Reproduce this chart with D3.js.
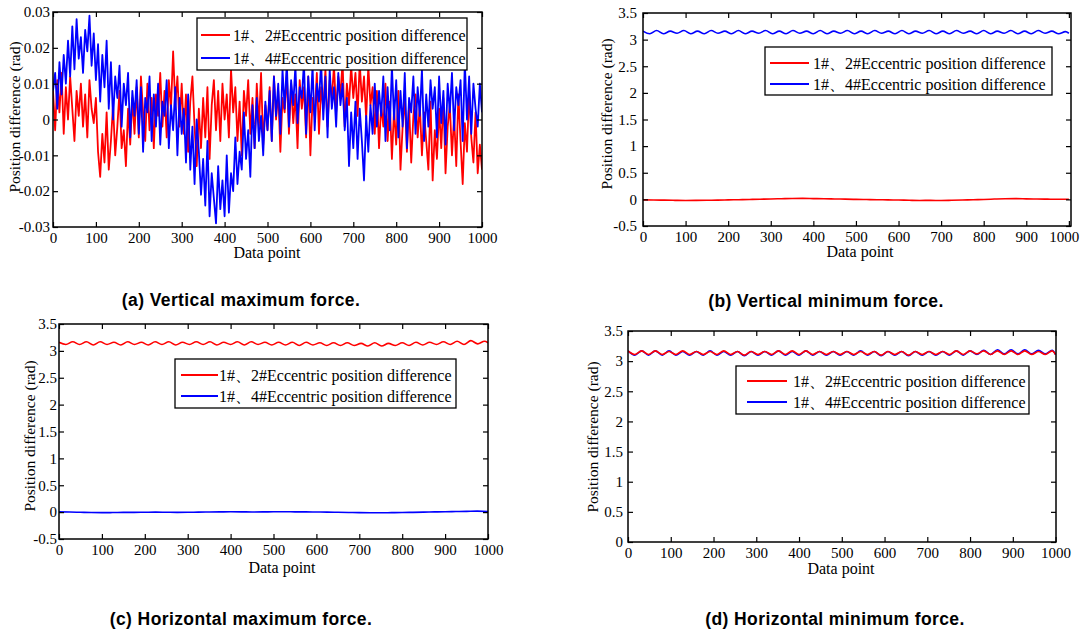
<!DOCTYPE html>
<html>
<head>
<meta charset="utf-8">
<script src="https://cdn.jsdelivr.net/npm/d3@7"></script>
<style>
  body { margin: 0; background: #fff; }
  svg { display: block; }
  .tick text, .lab, .leg { font-family: "Liberation Serif", "Times New Roman", serif; fill: #000; }
  .cap { font-family: "Liberation Sans", Arial, sans-serif; font-weight: bold; font-size: 17.5px; letter-spacing: 0.4px; }
  .domain { display: none; }
</style>
</head>
<body>
<svg width="1082" height="633"></svg>
<script>
// ---- data ----
const legendNames = ["1#\u30012#Eccentric position difference", "1#\u30014#Eccentric position difference"];
const xTicks = [0, 100, 200, 300, 400, 500, 600, 700, 800, 900, 1000];

// panel (a): sampled every 5 data points, one row per 100 points
const xA = d3.range(0, 1001, 5);
const aRed = [
  0.008,-0.003,0.011,0.002,0.013,-0.004,0.009,0.000,0.012,0.003,-0.006,0.008,0.001,0.010,-0.002,0.007,-0.005,0.011,0.003,-0.001,
  0.006,-0.009,-0.016,-0.004,-0.012,0.002,-0.014,-0.006,0.004,-0.010,-0.002,0.008,-0.008,-0.003,-0.013,0.003,-0.007,0.006,-0.004,0.009,
  -0.005,0.012,0.002,-0.006,0.010,-0.003,0.006,-0.008,0.007,0.001,0.013,-0.002,0.008,-0.005,0.011,0.003,0.019,0.004,0.012,-0.002,
  0.010,-0.004,0.007,-0.009,0.005,0.012,-0.002,-0.013,0.003,-0.008,0.006,-0.005,0.009,-0.011,0.004,0.011,-0.003,0.008,-0.006,0.010,
  0.000,0.007,-0.005,0.014,0.002,0.009,-0.006,0.005,-0.010,0.008,0.001,0.011,-0.004,0.006,-0.008,0.010,-0.002,0.013,-0.007,0.004,
  -0.003,0.009,-0.006,0.012,0.000,0.008,-0.009,0.006,0.002,0.013,-0.004,0.010,-0.001,0.007,-0.008,0.011,0.003,0.009,-0.005,0.012,
  -0.010,0.006,0.001,0.013,-0.004,0.009,0.003,0.014,-0.002,0.011,0.006,0.015,0.002,0.012,0.007,0.016,-0.002,0.010,0.004,0.015,
  0.006,0.013,0.001,0.016,0.005,0.012,0.000,0.015,0.004,0.009,-0.004,0.008,-0.008,0.004,-0.002,0.010,-0.006,0.005,-0.011,0.003,
  -0.007,0.008,-0.014,-0.002,0.006,-0.009,0.004,-0.012,0.001,0.007,-0.005,0.004,-0.010,0.002,-0.006,-0.014,0.005,-0.017,-0.003,-0.011,
  0.003,-0.008,0.006,-0.015,-0.002,0.004,-0.010,0.001,-0.013,0.007,-0.006,-0.018,-0.001,-0.009,0.008,-0.005,-0.012,0.002,-0.015,-0.007,
  -0.014];
const aBlue = [
  0.008,0.013,0.003,0.016,0.007,0.018,0.010,0.022,0.012,0.026,0.014,0.028,0.017,0.023,0.013,0.025,0.019,0.029,0.015,0.024,
  0.011,0.021,0.005,0.018,0.009,0.022,0.003,0.016,0.000,0.012,0.006,0.015,-0.002,0.010,0.004,0.013,-0.005,0.008,0.001,0.011,
  -0.004,0.009,-0.009,0.006,0.002,0.012,-0.006,0.007,-0.002,0.010,-0.007,0.005,0.001,0.011,-0.008,0.004,-0.003,0.009,-0.010,0.006,
  -0.004,0.003,-0.012,0.007,-0.014,-0.002,-0.018,0.000,-0.009,-0.021,-0.011,-0.024,-0.006,-0.027,-0.015,-0.022,-0.029,-0.013,-0.025,-0.017,
  -0.027,-0.010,-0.026,-0.015,-0.020,-0.005,-0.018,-0.009,-0.014,0.002,-0.011,-0.003,-0.016,0.004,-0.008,0.006,-0.006,0.001,-0.010,0.005,
  -0.003,0.008,-0.006,0.012,0.001,0.010,-0.004,0.014,0.003,0.016,-0.002,0.011,0.004,0.015,-0.001,0.009,0.006,0.016,-0.004,0.012,
  0.002,0.015,-0.003,0.010,0.005,0.016,0.000,0.012,-0.005,0.014,0.003,0.009,-0.002,0.013,0.004,0.010,-0.003,0.006,-0.013,0.002,
  -0.008,0.005,-0.011,0.003,-0.006,-0.017,0.001,-0.009,0.004,-0.004,0.010,-0.002,0.008,0.001,0.012,-0.006,0.009,-0.003,0.015,0.000,
  0.011,-0.005,0.008,-0.002,0.013,-0.008,0.006,0.002,0.012,-0.004,0.009,0.001,0.014,-0.006,0.007,-0.002,0.011,0.003,0.009,-0.005,
  0.012,-0.001,0.008,-0.007,0.010,0.002,0.013,-0.003,0.009,0.004,0.011,-0.006,0.016,0.000,0.012,-0.004,0.010,0.003,-0.002,0.010,
  0.002];

// wavy series near pi: sampled every 16 data points (peaks / troughs)
const xW = d3.range(0, 1000, 16).concat([1000]);
const bBlue = [3.16,3.11,3.17,3.11,3.16,3.12,3.17,3.11,3.16,3.11,3.17,3.12,3.16,3.11,3.17,3.11,
  3.16,3.12,3.17,3.11,3.16,3.11,3.17,3.12,3.16,3.11,3.17,3.11,3.16,3.12,3.17,3.11,
  3.16,3.11,3.17,3.12,3.16,3.11,3.17,3.11,3.16,3.12,3.17,3.11,3.16,3.11,3.17,3.12,
  3.16,3.11,3.17,3.11,3.16,3.12,3.17,3.11,3.16,3.11,3.17,3.12,3.16,3.11,3.15,3.12];
const cRed = [3.16,3.12,3.17,3.12,3.17,3.11,3.17,3.12,3.16,3.11,3.17,3.12,3.16,3.11,3.17,3.12,
  3.17,3.11,3.16,3.12,3.17,3.12,3.17,3.11,3.16,3.12,3.17,3.11,3.17,3.12,3.16,3.11,
  3.16,3.11,3.16,3.10,3.16,3.11,3.15,3.10,3.15,3.10,3.15,3.10,3.14,3.09,3.15,3.09,
  3.14,3.10,3.15,3.10,3.16,3.11,3.16,3.12,3.17,3.12,3.18,3.12,3.19,3.13,3.18,3.15];
const dRed = [3.17,3.11,3.17,3.11,3.17,3.11,3.16,3.11,3.17,3.11,3.16,3.11,3.16,3.11,3.17,3.11,
  3.16,3.10,3.16,3.11,3.16,3.11,3.17,3.11,3.17,3.11,3.17,3.11,3.16,3.11,3.16,3.11,
  3.16,3.11,3.16,3.11,3.16,3.10,3.16,3.11,3.16,3.10,3.16,3.11,3.16,3.11,3.16,3.11,
  3.17,3.11,3.17,3.12,3.17,3.11,3.17,3.11,3.17,3.11,3.17,3.11,3.16,3.11,3.17,3.11];
const dBlue = [3.17,3.10,3.17,3.10,3.17,3.10,3.17,3.10,3.16,3.10,3.16,3.10,3.17,3.10,3.16,3.10,
  3.16,3.09,3.16,3.10,3.16,3.10,3.17,3.10,3.16,3.10,3.17,3.10,3.16,3.10,3.16,3.10,
  3.16,3.10,3.17,3.10,3.16,3.09,3.16,3.10,3.16,3.09,3.16,3.10,3.16,3.10,3.16,3.10,
  3.17,3.10,3.17,3.11,3.18,3.11,3.19,3.12,3.19,3.12,3.19,3.12,3.18,3.12,3.18,3.11];

// flat series near zero: sampled every 25 data points
const xZ = d3.range(0, 1001, 25);
const bRed = [-0.010,-0.012,-0.015,-0.018,-0.020,-0.019,-0.017,-0.014,-0.010,-0.006,-0.002,0.003,0.008,0.012,
  0.016,0.018,0.015,0.012,0.008,0.004,0.000,-0.003,-0.006,-0.010,-0.013,-0.017,-0.020,-0.019,-0.021,
  -0.017,-0.012,-0.006,-0.001,0.006,0.012,0.014,0.010,0.006,0.004,0.002,0.001];
const cBlue = [0.005,0.002,-0.003,-0.008,-0.010,-0.008,-0.005,-0.004,-0.002,0.000,-0.002,-0.004,-0.003,0.000,
  0.002,0.004,0.006,0.005,0.003,0.004,0.006,0.007,0.005,0.004,0.002,0.000,-0.003,-0.006,-0.009,
  -0.011,-0.012,-0.010,-0.008,-0.004,0.000,0.004,0.008,0.011,0.014,0.018,0.012];

const yTicksA = [-0.03, -0.02, -0.01, 0, 0.01, 0.02, 0.03];
const yTicksB = [-0.5, 0, 0.5, 1, 1.5, 2, 2.5, 3, 3.5];
const yTicksD = [0, 0.5, 1, 1.5, 2, 2.5, 3, 3.5];
const captions = ["(a) Vertical maximum force.", "(b) Vertical minimum force.",
  "(c) Horizontal maximum force.", "(d) Horizontal minimum force."];

const RED = "#ff0000", BLUE = "#0000ff";

// ---- layout ----
const panels = [
  { box: [53, 12, 482, 227], xd: [0, 1000], yd: [-0.03, 0.03], yt: yTicksA, pad: 3, sw: 1.8, lastDx: 0,
    series: [{ x: xA, y: aRed, c: RED }, { x: xA, y: aBlue, c: BLUE }], curve: d3.curveLinear,
    leg: [197, 18, 270, 52], legLine: [4, 33], legText: 36, legRows: [17, 40],
    ylab: [15, 117], xlab: [267, 258], cap: [241, 306] },
  { box: [643, 13, 1071, 226], xd: [0, 1005], yd: [-0.5, 3.5], yt: yTicksB, pad: 6, sw: 1.6, lastDx: -5,
    series: [{ x: xZ, y: bRed, c: RED }, { x: xW, y: bBlue, c: BLUE }], curve: d3.curveMonotoneX,
    leg: [765, 47, 287, 48], legLine: [5, 44], legText: 48, legRows: [16, 37],
    ylab: [607, 114], xlab: [860, 257], cap: [826, 307] },
  { box: [59, 324, 488, 539], xd: [0, 1000], yd: [-0.5, 3.5], yt: yTicksB, pad: 2, sw: 1.6, lastDx: 0,
    series: [{ x: xW, y: cRed, c: RED }, { x: xZ, y: cBlue, c: BLUE }], curve: d3.curveMonotoneX,
    leg: [175, 359, 281, 49], legLine: [6, 43], legText: 44, legRows: [16, 37],
    ylab: [30, 436], xlab: [282, 573], cap: [241, 625] },
  { box: [628, 331, 1056, 542], xd: [0, 1001], yd: [0, 3.5], yt: yTicksD, pad: 5, sw: 1.6, lastDx: 0,
    series: [{ x: xW, y: dBlue, c: BLUE }, { x: xW, y: dRed, c: RED }], curve: d3.curveMonotoneX,
    leg: [736, 366, 293, 48], legLine: [11, 51], legText: 57, legRows: [15, 36],
    ylab: [593, 437], xlab: [841, 574], cap: [835, 625] }
];

const svg = d3.select("svg");
const fmt = d => (d === 0 ? "0" : String(+d.toFixed(3)));

panels.forEach((p, k) => {
  const [l, t, r, b] = p.box;
  const w = r - l, h = b - t;
  const x = d3.scaleLinear().domain(p.xd).range([0, w]);
  const y = d3.scaleLinear().domain(p.yd).range([h, 0]);
  const g = svg.append("g").attr("transform", "translate(" + l + "," + t + ")");

  g.append("clipPath").attr("id", "clip" + k)
    .append("rect").attr("width", w).attr("height", h);

  // lines
  p.series.forEach(s => {
    const line = d3.line().x((d, i) => x(s.x[i])).y(d => y(d)).curve(p.curve);
    g.append("path")
      .datum(s.y)
      .attr("clip-path", "url(#clip" + k + ")")
      .attr("fill", "none")
      .attr("stroke", s.c)
      .attr("stroke-width", p.sw)
      .attr("stroke-linejoin", "round")
      .attr("d", line);
  });

  // axes, ticks pointing inwards on all four sides
  const bottom = g.append("g").attr("transform", "translate(0," + h + ")")
    .call(d3.axisBottom(x).tickValues(xTicks).tickSize(-5).tickPadding(5).tickFormat(d3.format("d")));
  g.append("g").call(d3.axisTop(x).tickValues(xTicks).tickSize(-5).tickFormat(""));
  const left = g.append("g")
    .call(d3.axisLeft(y).tickValues(p.yt).tickSize(-5).tickPadding(p.pad).tickFormat(fmt));
  g.append("g").attr("transform", "translate(" + w + ",0)")
    .call(d3.axisRight(y).tickValues(p.yt).tickSize(-5).tickFormat(""));
  g.selectAll(".tick line").attr("stroke", "#000").attr("stroke-width", 1.2);
  bottom.selectAll("text").style("font-size", "15px");
  bottom.selectAll("text").filter(d => d === 1000).attr("dx", p.lastDx);
  left.selectAll("text").style("font-size", "15px");

  g.append("rect").attr("width", w).attr("height", h)
    .attr("fill", "none").attr("stroke", "#000").attr("stroke-width", 1.5);

  // legend
  const [lx, ly, lw, lh] = p.leg;
  const lg = svg.append("g").attr("transform", "translate(" + lx + "," + ly + ")");
  lg.append("rect").attr("width", lw).attr("height", lh)
    .attr("fill", "#fff").attr("stroke", "#000").attr("stroke-width", 1.3);
  [RED, BLUE].forEach((c, i) => {
    lg.append("line").attr("x1", p.legLine[0]).attr("x2", p.legLine[1])
      .attr("y1", p.legRows[i]).attr("y2", p.legRows[i])
      .attr("stroke", c).attr("stroke-width", 2);
    lg.append("text").attr("class", "leg")
      .attr("x", p.legText).attr("y", p.legRows[i]).attr("dy", "0.35em")
      .style("font-size", "16px")
      .text(legendNames[i]);
  });

  // axis titles
  svg.append("text").attr("class", "lab")
    .attr("transform", "translate(" + p.ylab[0] + "," + p.ylab[1] + ") rotate(-90)")
    .attr("text-anchor", "middle").attr("dy", "0.35em")
    .style("font-size", "15.5px")
    .text("Position difference (rad)");
  svg.append("text").attr("class", "lab")
    .attr("x", p.xlab[0]).attr("y", p.xlab[1])
    .attr("text-anchor", "middle")
    .style("font-size", "16px")
    .text("Data point");

  svg.append("text").attr("class", "cap")
    .attr("x", p.cap[0]).attr("y", p.cap[1])
    .attr("text-anchor", "middle")
    .text(captions[k]);
});
</script>
</body>
</html>
